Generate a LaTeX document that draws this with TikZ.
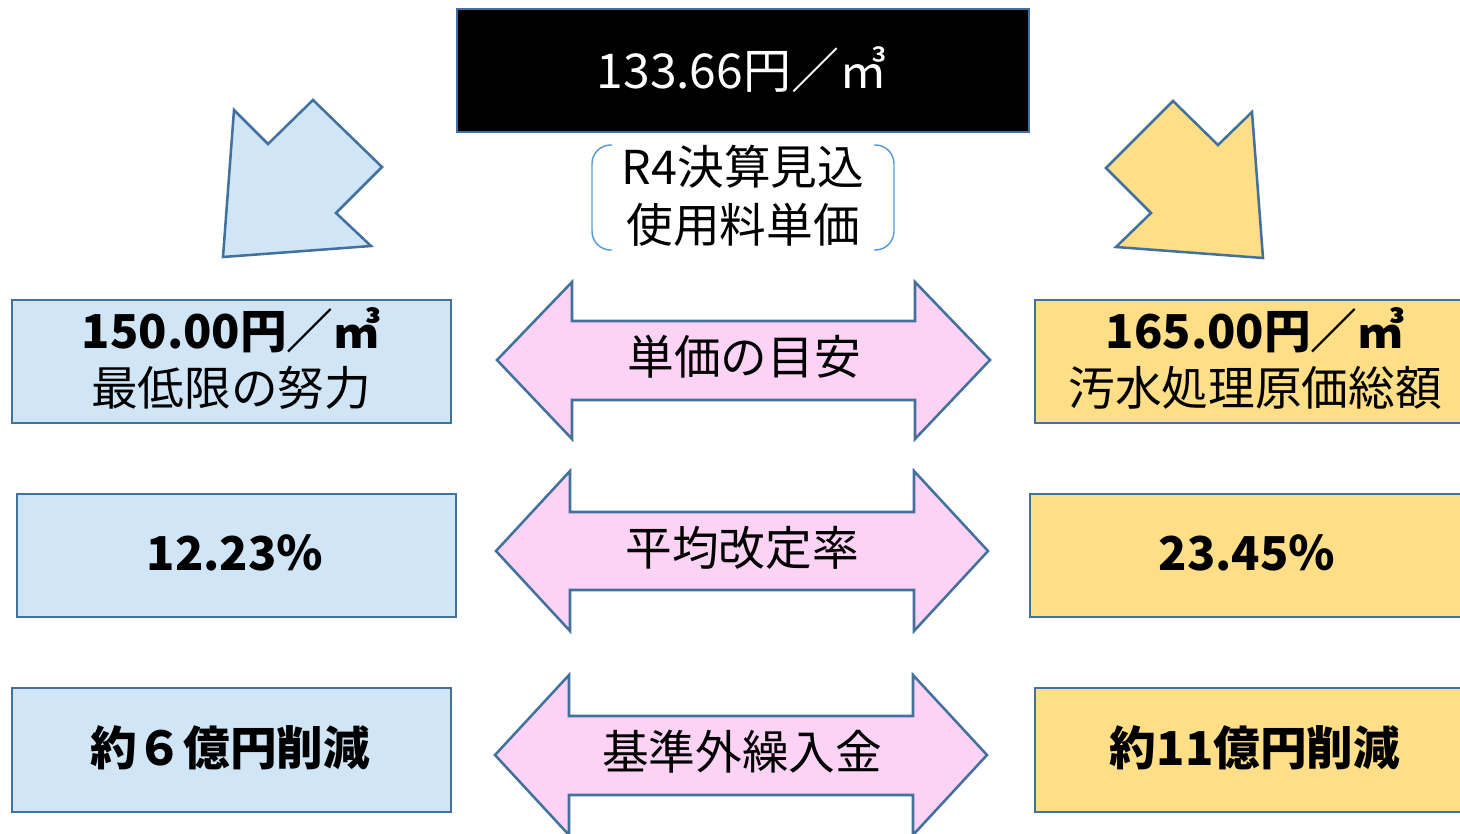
\documentclass[tikz,border=0pt]{standalone}
\usepackage{fontspec}
\setmainfont{Noto Sans CJK JP}
\definecolor{edge}{HTML}{41719C}
\definecolor{bluefill}{HTML}{D0E6F7}
\definecolor{yelfill}{HTML}{FEDE86}
\definecolor{pinkfill}{HTML}{FCD3F5}
\definecolor{brk}{HTML}{5B9BD5}
\tikzset{
  shapeline/.style={draw=edge, line width=1.9pt, line join=miter},
  bluebox/.style={shapeline, fill=bluefill},
  yelbox/.style={shapeline, fill=yelfill},
  pinkarrow/.style={shapeline, fill=pinkfill},
  topbox/.style={shapeline, fill=black},
  bracketline/.style={draw=brk, line width=1.1pt, rounded corners=14pt},
  txt/.style={inner sep=0pt, font=\fontsize{35}{42}\selectfont},
  btxt/.style={txt, font=\fontsize{35}{42}\selectfont\bfseries},
}
\begin{document}
\begin{tikzpicture}[x=0.75pt,y=-0.75pt]
\useasboundingbox (0,0) rectangle (1460,833);
\clip (0,0) rectangle (1460,833);

% top box
\draw[topbox] (457,9) rectangle (1029,132);
\node[txt, text=white, font=\fontsize{36}{43}\selectfont] (top) at (742,70) {133.66円／㎥};

% bracket label
\draw[bracketline] (612,145) -- (592,145) -- (592,250) -- (612,250);
\draw[bracketline] (874,145) -- (894,145) -- (894,250) -- (874,250);
\node[txt] (lab1) at (743,167) {R4決算見込};
\node[txt] (lab2) at (743,225) {使用料単価};

% bent arrows
\draw[bluebox] (234,110) -- (268,144) -- (313,100) -- (382,167) -- (336,213) -- (371,246) -- (223,257) -- cycle;
\draw[yelbox] (1252,112) -- (1218,145) -- (1173,101) -- (1106,168) -- (1151,213) -- (1116,247) -- (1263,258) -- cycle;

% row 1
\draw[bluebox] (12,300) rectangle (451,423);
\node[btxt] (l1a) at (231,330) {150.00円／㎥};
\node[txt] (l1b) at (231,388) {最低限の努力};
\draw[yelbox] (1035,300) rectangle (1475,423);
\node[btxt] (r1a) at (1255,330) {165.00円／㎥};
\node[txt] (r1b) at (1255,388) {汚水処理原価総額};
\draw[pinkarrow] (497,360) -- (572,282) -- (572,321) -- (915,321) -- (915,282) -- (990,360) -- (915,439) -- (915,400) -- (572,400) -- (572,439) -- cycle;
\node[txt] (m1) at (744,357) {単価の目安};

% row 2
\draw[bluebox] (17,494) rectangle (456,617);
\node[btxt] (l2) at (235,553) {12.23％};
\draw[yelbox] (1030,494) rectangle (1475,617);
\node[btxt] (r2) at (1247,553) {23.45％};
\draw[pinkarrow] (496,551) -- (570,471) -- (570,512) -- (914,512) -- (914,471) -- (988,551) -- (914,631) -- (914,590) -- (570,590) -- (570,631) -- cycle;
\node[txt] (m2) at (742,548) {平均改定率};

% row 3
\draw[bluebox] (12,688) rectangle (451,812);
\node[btxt] (l3) at (230,748) {約６億円削減};
\draw[yelbox] (1035,688) rectangle (1475,812);
\node[btxt] (r3) at (1255,748) {約11億円削減};
\draw[pinkarrow] (495,755) -- (569,675) -- (569,716) -- (913,716) -- (913,675) -- (987,755) -- (913,835) -- (913,795) -- (569,795) -- (569,835) -- cycle;
\node[txt] (m3) at (742,752) {基準外繰入金};
\end{tikzpicture}
\end{document}
